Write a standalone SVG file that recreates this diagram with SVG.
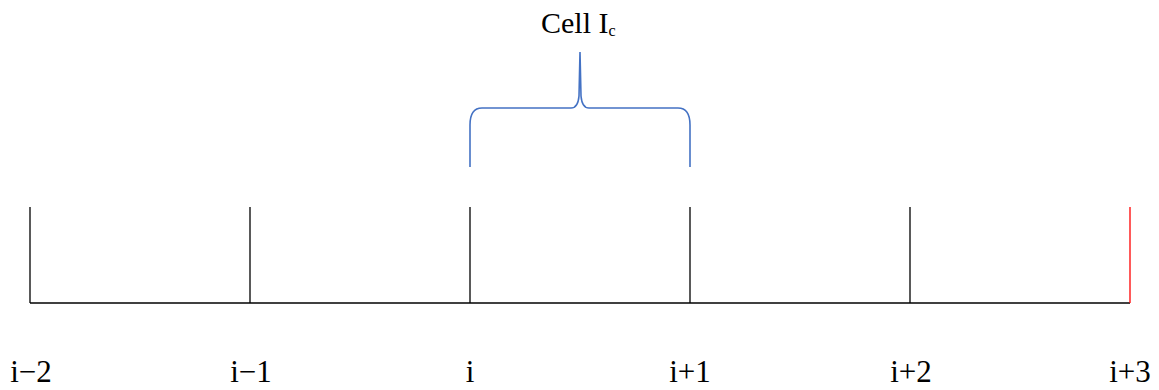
<svg xmlns="http://www.w3.org/2000/svg" width="1159" height="390" viewBox="0 0 1159 390">
<style>
.ln{stroke:#000;stroke-width:1.3;fill:none}
.lbl{font-family:"Liberation Serif","Times New Roman",serif;font-size:31px;fill:#000;text-anchor:middle}
.brace{stroke:#4472C4;stroke-width:1.6;fill:none}
.ttl{font-family:"Liberation Serif","Times New Roman",serif;font-size:30px;fill:#000}
</style>
<rect width="1159" height="390" fill="#fff"/>
<g id="axis">
<line class="ln" x1="30" y1="303" x2="1130" y2="303"/>
</g>
<g id="ticks">
<g id="t0"><line class="ln" x1="30" y1="207" x2="30" y2="303"/><text class="lbl" x="31" y="382">i−2</text></g>
<g id="t1"><line class="ln" x1="250" y1="207" x2="250" y2="303"/><text class="lbl" x="251" y="382">i−1</text></g>
<g id="t2"><line class="ln" x1="470" y1="207" x2="470" y2="303"/><text class="lbl" x="470" y="382">i</text></g>
<g id="t3"><line class="ln" x1="690" y1="207" x2="690" y2="303"/><text class="lbl" x="690" y="382">i+1</text></g>
<g id="t4"><line class="ln" x1="910" y1="207" x2="910" y2="303"/><text class="lbl" x="911" y="382">i+2</text></g>
<g id="t5"><line x1="1130" y1="207" x2="1130" y2="303" stroke="#FF0000" stroke-width="1.3"/><text class="lbl" x="1130" y="382">i+3</text></g>
</g>
<g id="brace">
<path class="brace" d="M470,167 L470,125 Q470,108 482,108 L571,108 Q578,108 579,96 L580,52 L581,96 Q582,108 589,108 L678,108 Q690,108 690,125 L690,167"/>
<text class="ttl" x="541" y="33">Cell I<tspan font-size="16" dy="3">c</tspan></text>
</g>
</svg>
